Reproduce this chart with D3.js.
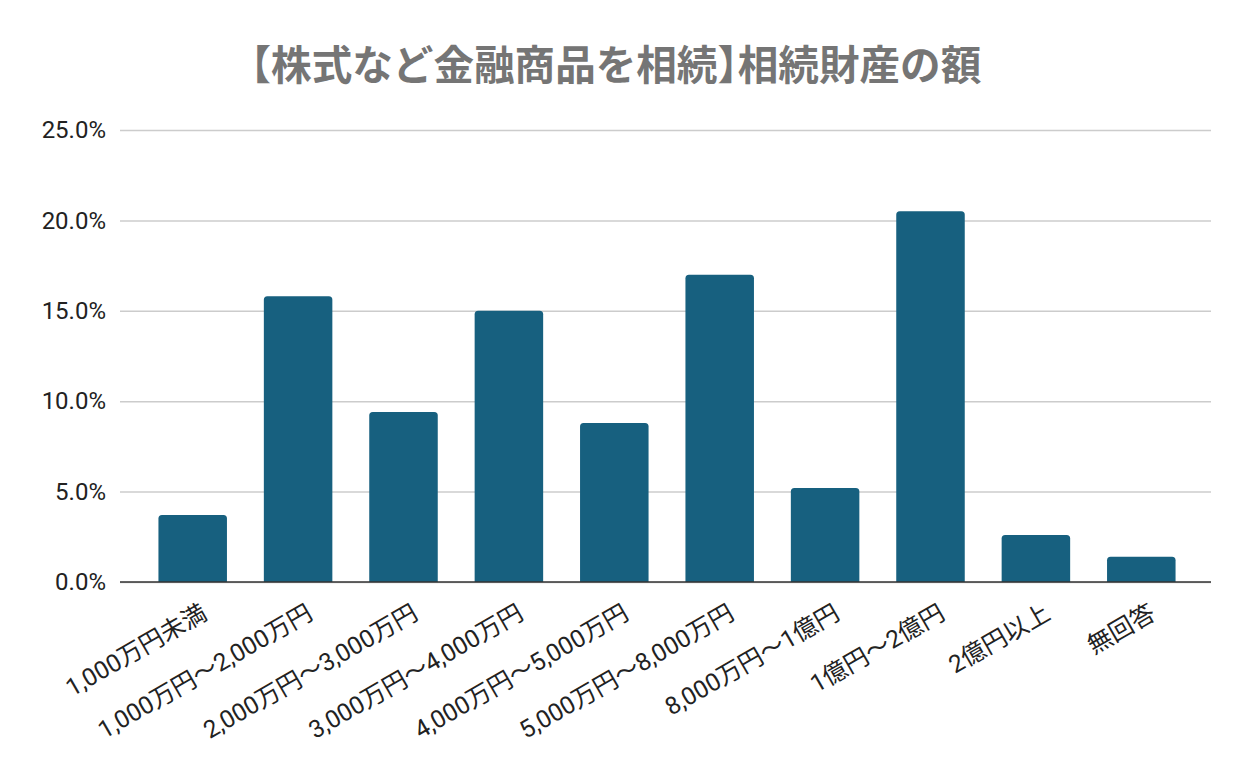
<!DOCTYPE html>
<html>
<head>
<meta charset="utf-8">
<script src="https://cdn.jsdelivr.net/npm/d3@7"></script>
<style>
  html, body { margin: 0; padding: 0; background: #fff; }
  svg { display: block; }
  .halt { font-feature-settings: "halt" 1; }
</style>
</head>
<body>
<svg id="chart" width="1250" height="773"></svg>
<script>
const titleParts = ["【", "株式など金融商品を相続", "】", "相続財産の額"];
const categories = [
  "1,000万円未満",
  "1,000万円〜2,000万円",
  "2,000万円〜3,000万円",
  "3,000万円〜4,000万円",
  "4,000万円〜5,000万円",
  "5,000万円〜8,000万円",
  "8,000万円〜1億円",
  "1億円〜2億円",
  "2億円以上",
  "無回答"
];
const values = [3.7, 15.8, 9.4, 15.0, 8.8, 17.0, 5.2, 20.5, 2.6, 1.4];
const yTicks = [0, 5, 10, 15, 20, 25];

const W = 1250, H = 773;
const plotLeft = 120, plotRight = 1211, plotTop = 130, plotBottom = 582;
const FONT = "Roboto, 'Noto Sans CJK JP', sans-serif";
const barColor = "#17607f";

const svg = d3.select("#chart");
svg.append("rect").attr("width", W).attr("height", H).attr("fill", "#fff");

// Title
const t = svg.append("text")
  .attr("x", 616).attr("y", 80)
  .attr("text-anchor", "middle")
  .attr("font-family", "'Noto Sans CJK JP', sans-serif")
  .attr("font-weight", "bold")
  .attr("font-size", 40.6)
  .attr("fill", "#757575");
t.selectAll("tspan")
  .data(titleParts)
  .join("tspan")
  .attr("class", d => (d === "【" || d === "】") ? "halt" : null)
  .text(d => d);

const x = d3.scaleBand()
  .domain(categories)
  .range([140, 1194])
  .paddingInner(0.35)
  .paddingOuter(0.175);

const y = d3.scaleLinear().domain([0, 25]).range([plotBottom, plotTop]);

// Y axis with gridlines
const yAxis = d3.axisLeft(y)
  .tickValues(yTicks)
  .tickFormat(d => d.toFixed(1) + "%")
  .tickSizeInner(-(plotRight - plotLeft))
  .tickSizeOuter(0)
  .tickPadding(14);

const gy = svg.append("g").attr("transform", `translate(${plotLeft},0)`).call(yAxis);
gy.select(".domain").remove();
gy.selectAll(".tick line").attr("stroke", "#cccccc").attr("stroke-width", 1.5);
gy.selectAll(".tick text")
  .attr("font-family", FONT)
  .attr("font-size", 24)
  .attr("fill", "#222");

// Bars with rounded top corners
const r = 3.5;
function barPath(d, i) {
  const x0 = x(categories[i]);
  const w = x.bandwidth();
  const yt = y(d);
  const yb = y(0);
  return `M${x0},${yb} L${x0},${yt + r} Q${x0},${yt} ${x0 + r},${yt} L${x0 + w - r},${yt} Q${x0 + w},${yt} ${x0 + w},${yt + r} L${x0 + w},${yb} Z`;
}
svg.append("g").selectAll("path")
  .data(values)
  .join("path")
  .attr("d", (d, i) => barPath(d, i))
  .attr("fill", barColor);

// Baseline
svg.append("line")
  .attr("x1", plotLeft).attr("x2", plotRight)
  .attr("y1", y(0)).attr("y2", y(0))
  .attr("stroke", "#333").attr("stroke-width", 1.5);

// X axis labels
const xAxis = d3.axisBottom(x).tickSize(0).tickPadding(0);
const gx = svg.append("g").attr("transform", `translate(0,${plotBottom})`).call(xAxis);
gx.select(".domain").remove();
gx.selectAll(".tick text")
  .attr("font-family", FONT)
  .attr("font-size", 24.5)
  .attr("fill", "#222")
  .attr("text-anchor", "end")
  .attr("x", 0).attr("y", 0).attr("dy", 0)
  .attr("transform", "translate(16,36) rotate(-30)");
</script>
</body>
</html>
